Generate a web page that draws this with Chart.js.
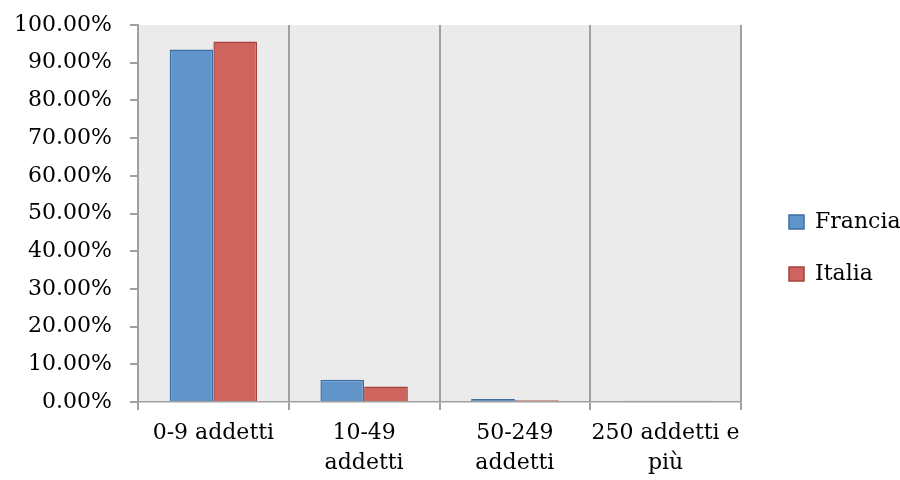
<!DOCTYPE html>
<html>
<head>
<meta charset="utf-8">
<script src="https://cdn.jsdelivr.net/npm/chart.js@4/dist/chart.umd.min.js"></script>
<style>
  html, body { margin: 0; padding: 0; background: #ffffff; }
  #wrap { width: 900px; height: 480px; }
</style>
</head>
<body>
<div id="wrap"><canvas id="chart" width="900" height="480"></canvas></div>
<script>
// Company size classes (multi-line labels as arrays)
const categories = ['0-9 addetti', ['10-49', 'addetti'], ['50-249', 'addetti'], ['250 addetti e', 'più']];
// Share of enterprises per size class, in percent
const francia = [93.5, 5.9, 0.8, 0.35];
const italia = [95.6, 4.1, 0.45, 0.3];
// Value axis ticks
const yTicks = [0, 10, 20, 30, 40, 50, 60, 70, 80, 90, 100];

const FONT = "'DejaVu Serif', serif";
const GRID = '#a0a0a0';

// Grey fill behind the plotting area
const plotBackground = {
  id: 'plotBackground',
  beforeDraw(chart) {
    const { ctx, chartArea: a } = chart;
    ctx.save();
    ctx.fillStyle = '#ebebeb';
    ctx.fillRect(a.left, a.top, a.right - a.left, a.bottom - a.top);
    ctx.restore();
  }
};

// Fixed-width legend column to the right of the plot
const legendPlacement = {
  id: 'legendPlacement',
  beforeInit(chart) {
    const legend = chart.legend;
    const fit = legend.fit;
    legend.fit = function () {
      fit.call(this);
      this.width = 159;
    };
  },
  afterLayout(chart) {
    const legend = chart.legend;
    const w = legend.right - legend.left;
    legend.left = 759;
    legend.right = 759 + w;
    const h = legend.bottom - legend.top;
    legend.top = 181;
    legend.bottom = 181 + h;
  }
};

new Chart(document.getElementById('chart'), {
  type: 'bar',
  data: {
    labels: categories,
    datasets: [
      {
        label: 'Francia',
        data: francia,
        backgroundColor: '#6195ca',
        borderColor: '#3f6ea5',
        borderWidth: 1.5,
        borderSkipped: 'bottom'
      },
      {
        label: 'Italia',
        data: italia,
        backgroundColor: '#cf645e',
        borderColor: '#a4423d',
        borderWidth: 1.5,
        borderSkipped: 'bottom'
      }
    ]
  },
  options: {
    responsive: false,
    animation: false,
    events: [],
    layout: { padding: { top: 25, right: 0, bottom: 0, left: 0 } },
    datasets: {
      bar: { categoryPercentage: 0.58, barPercentage: 1.0 }
    },
    scales: {
      x: {
        afterFit(scale) { scale.height = 78; },
        grid: {
          offset: true,
          drawOnChartArea: true,
          drawTicks: true,
          tickLength: 8,
          color: GRID,
          lineWidth: 2
        },
        border: { color: GRID, width: 1.5 },
        ticks: {
          autoSkip: false,
          maxRotation: 0,
          minRotation: 0,
          padding: 8,
          color: '#000000',
          font: { family: FONT, size: 22, lineHeight: 1.36 }
        }
      },
      y: {
        min: 0,
        max: 100,
        afterFit(scale) {
          scale.width = 138;
          scale.paddingTop = 0;
          scale.paddingBottom = 0;
        },
        afterBuildTicks(scale) { scale.ticks = yTicks.map(v => ({ value: v })); },
        grid: {
          drawOnChartArea: false,
          drawTicks: true,
          tickLength: 8,
          color: GRID,
          lineWidth: 2
        },
        border: { color: GRID, width: 2 },
        ticks: {
          padding: 18,
          color: '#000000',
          font: { family: FONT, size: 22 },
          callback: v => Number(v).toFixed(2) + '%'
        }
      }
    },
    plugins: {
      legend: {
        position: 'right',
        align: 'start',
        labels: {
          boxWidth: 15,
          boxHeight: 14,
          padding: 30,
          color: '#000000',
          font: { family: FONT, size: 22 }
        }
      },
      tooltip: { enabled: false }
    }
  },
  plugins: [plotBackground, legendPlacement]
});
</script>
</body>
</html>
